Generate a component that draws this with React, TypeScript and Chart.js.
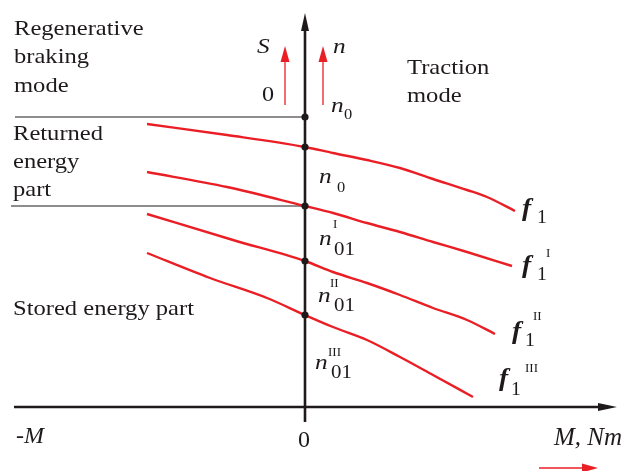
import React, { useEffect, useRef } from "react";
import { Chart, registerables } from "chart.js";

Chart.register(...registerables);

// ---- Data (schematic units: M torque on x, n speed on y) ----
const curveNames = ["f1", "f1I", "f1II", "f1III"];
const f1M = [-1.58, -0.78, 0, 0.28, 0.62, 0.95, 1.28, 1.62, 1.82, 2.1];
const f1N = [2.83, 2.72, 2.6, 2.54, 2.47, 2.39, 2.28, 2.17, 2.1, 1.96];
const f1IM = [-1.58, -0.78, 0, 0.28, 0.62, 0.95, 1.28, 1.62, 2.07];
const f1IN = [2.35, 2.2, 2.01, 1.94, 1.84, 1.75, 1.65, 1.55, 1.41];
const f1IIM = [-1.58, -0.72, 0, 0.28, 0.62, 0.95, 1.28, 1.62, 1.9];
const f1IIN = [1.93, 1.67, 1.46, 1.35, 1.24, 1.12, 0.99, 0.87, 0.73];
const f1IIIM = [-1.58, -0.95, -0.38, 0, 0.28, 0.62, 0.95, 1.28, 1.68];
const f1IIIN = [1.54, 1.29, 1.09, 0.92, 0.8, 0.67, 0.5, 0.32, 0.1];

// speed levels on the n axis (M = 0)
const nLevels = [2.9, 2.6, 2.01, 1.46, 0.92];
// horizontal boundary lines: level and left end
const boundaryLevels = [2.9, 2.01];
const boundaryStart = [-2.9, -2.94];

// axis extents
const xRange = [-3.05, 3.18];
const yRange = [-0.64, 4.07];
const xAxisSpan = [-2.91, 3.12];
const yAxisSpan = [-0.15, 3.94];

const RED = "#ea1f26";
const INK = "#1e1a1b";
const SERIF = '"Liberation Serif", "Times New Roman", serif';

type Lbl = { t: string; x: number; y: number; f: string; sx?: number; align?: CanvasTextAlign };

const labels: Lbl[] = [
  { t: "Regenerative", x: -2.91, y: 3.72, f: `21px ${SERIF}`, sx: 1.17 },
  { t: "braking", x: -2.91, y: 3.44, f: `21px ${SERIF}`, sx: 1.17 },
  { t: "mode", x: -2.91, y: 3.15, f: `21px ${SERIF}`, sx: 1.17 },
  { t: "Returned", x: -2.92, y: 2.67, f: `21px ${SERIF}`, sx: 1.17 },
  { t: "energy", x: -2.92, y: 2.39, f: `21px ${SERIF}`, sx: 1.17 },
  { t: "part", x: -2.92, y: 2.11, f: `21px ${SERIF}`, sx: 1.17 },
  { t: "Stored energy part", x: -2.92, y: 0.92, f: `21px ${SERIF}`, sx: 1.17 },
  { t: "Traction", x: 1.02, y: 3.33, f: `21px ${SERIF}`, sx: 1.17 },
  { t: "mode", x: 1.02, y: 3.05, f: `21px ${SERIF}`, sx: 1.17 },
  { t: "S", x: -0.48, y: 3.54, f: `italic 22px ${SERIF}`, sx: 1.15 },
  { t: "0", x: -0.43, y: 3.06, f: `22px ${SERIF}`, sx: 1.1 },
  { t: "n", x: 0.28, y: 3.54, f: `italic 22px ${SERIF}`, sx: 1.15 },
  // n0 (top)
  { t: "n", x: 0.26, y: 2.95, f: `italic 22px ${SERIF}`, sx: 1.15 },
  { t: "0", x: 0.39, y: 2.88, f: `15px ${SERIF}`, sx: 1.1 },
  // n0 (middle)
  { t: "n", x: 0.14, y: 2.24, f: `italic 22px ${SERIF}`, sx: 1.15 },
  { t: "0", x: 0.32, y: 2.15, f: `15px ${SERIF}`, sx: 1.1 },
  // n01 I
  { t: "I", x: 0.28, y: 1.79, f: `13px ${SERIF}` },
  { t: "n", x: 0.14, y: 1.62, f: `italic 22px ${SERIF}`, sx: 1.15 },
  { t: "01", x: 0.29, y: 1.52, f: `19px ${SERIF}`, sx: 1.1 },
  // n01 II
  { t: "II", x: 0.25, y: 1.2, f: `13px ${SERIF}` },
  { t: "n", x: 0.13, y: 1.05, f: `italic 22px ${SERIF}`, sx: 1.15 },
  { t: "01", x: 0.29, y: 0.96, f: `19px ${SERIF}`, sx: 1.1 },
  // n01 III
  { t: "III", x: 0.23, y: 0.51, f: `13px ${SERIF}` },
  { t: "n", x: 0.1, y: 0.38, f: `italic 22px ${SERIF}`, sx: 1.15 },
  { t: "01", x: 0.26, y: 0.29, f: `19px ${SERIF}`, sx: 1.1 },
  // f1
  { t: "f", x: 2.17, y: 1.91, f: `bold italic 25px ${SERIF}`, sx: 1.1 },
  { t: "1", x: 2.32, y: 1.84, f: `18px ${SERIF}`, sx: 1.1 },
  // f1 I
  { t: "f", x: 2.17, y: 1.34, f: `bold italic 25px ${SERIF}`, sx: 1.1 },
  { t: "1", x: 2.32, y: 1.27, f: `18px ${SERIF}`, sx: 1.1 },
  { t: "I", x: 2.41, y: 1.5, f: `13px ${SERIF}` },
  // f1 II
  { t: "f", x: 2.07, y: 0.68, f: `bold italic 25px ${SERIF}`, sx: 1.1 },
  { t: "1", x: 2.2, y: 0.61, f: `18px ${SERIF}`, sx: 1.1 },
  { t: "II", x: 2.28, y: 0.87, f: `13px ${SERIF}` },
  // f1 III
  { t: "f", x: 1.94, y: 0.21, f: `bold italic 25px ${SERIF}`, sx: 1.1 },
  { t: "1", x: 2.06, y: 0.12, f: `18px ${SERIF}`, sx: 1.1 },
  { t: "III", x: 2.2, y: 0.35, f: `13px ${SERIF}` },
  // axis labels
  { t: "-M", x: -2.89, y: -0.36, f: `italic 24px ${SERIF}` },
  { t: "0", x: -0.01, y: -0.4, f: `24px ${SERIF}`, align: "center" },
  { t: "M, Nm", x: 2.49, y: -0.38, f: `italic 25px ${SERIF}` },
];

// red direction arrows: [x0, y0, x1, y1]
const redArrows = [
  [-0.2, 3.02, -0.2, 3.61],
  [0.18, 3.02, 0.18, 3.61],
  [2.34, -0.61, 2.93, -0.61],
];

const pts = (xs: number[], ys: number[]) => xs.map((x, i) => ({ x, y: ys[i] }));
const curves = [pts(f1M, f1N), pts(f1IM, f1IN), pts(f1IIM, f1IIN), pts(f1IIIM, f1IIIN)];

function arrowHead(ctx: CanvasRenderingContext2D, x0: number, y0: number, x1: number, y1: number, len: number, half: number) {
  const a = Math.atan2(y1 - y0, x1 - x0);
  ctx.beginPath();
  ctx.moveTo(x1, y1);
  ctx.lineTo(x1 - len * Math.cos(a) + half * Math.sin(a), y1 - len * Math.sin(a) - half * Math.cos(a));
  ctx.lineTo(x1 - len * Math.cos(a) - half * Math.sin(a), y1 - len * Math.sin(a) + half * Math.cos(a));
  ctx.closePath();
  ctx.fill();
}

const schematic = {
  id: "schematic",
  beforeDatasetsDraw(chart: any) {
    const { ctx, scales } = chart;
    const X = (v: number) => scales.x.getPixelForValue(v);
    const Y = (v: number) => scales.y.getPixelForValue(v);
    ctx.save();
    ctx.strokeStyle = INK;
    ctx.fillStyle = INK;
    ctx.lineWidth = 2.6;
    // horizontal M axis
    ctx.beginPath();
    ctx.moveTo(X(xAxisSpan[0]), Y(0));
    ctx.lineTo(X(xAxisSpan[1]) - 10, Y(0));
    ctx.stroke();
    arrowHead(ctx, X(xAxisSpan[0]), Y(0), X(xAxisSpan[1]), Y(0), 19, 4);
    // vertical n axis
    ctx.beginPath();
    ctx.moveTo(X(0), Y(yAxisSpan[0]));
    ctx.lineTo(X(0), Y(yAxisSpan[1]) + 10);
    ctx.stroke();
    arrowHead(ctx, X(0), Y(yAxisSpan[0]), X(0), Y(yAxisSpan[1]), 18, 4);
    ctx.restore();
  },
  afterDatasetsDraw(chart: any) {
    const { ctx, scales } = chart;
    const X = (v: number) => scales.x.getPixelForValue(v);
    const Y = (v: number) => scales.y.getPixelForValue(v);
    ctx.save();
    // red arrows
    ctx.strokeStyle = RED;
    ctx.fillStyle = RED;
    ctx.lineWidth = 1.3;
    redArrows.forEach(([x0, y0, x1, y1]) => {
      const px0 = X(x0), py0 = Y(y0), px1 = X(x1), py1 = Y(y1);
      ctx.beginPath();
      ctx.moveTo(px0, py0);
      ctx.lineTo(px1 - (px1 - px0 ? Math.sign(px1 - px0) * 8 : 0), py1 - (py1 - py0 ? Math.sign(py1 - py0) * 8 : 0));
      ctx.stroke();
      arrowHead(ctx, px0, py0, px1, py1, 16, 4.5);
    });
    // text
    ctx.fillStyle = INK;
    ctx.textBaseline = "alphabetic";
    labels.forEach((l) => {
      ctx.save();
      ctx.font = l.f;
      ctx.textAlign = l.align || "left";
      ctx.translate(X(l.x), Y(l.y));
      ctx.scale(l.sx || 1, 1);
      ctx.fillText(l.t, 0, 0);
      ctx.restore();
    });
    ctx.restore();
  },
};

export default function App() {
  const ref = useRef<HTMLCanvasElement>(null);
  useEffect(() => {
    if (!ref.current) return;
    const datasets: any[] = [];
    // level dots first + lowest order so they are drawn on top
    datasets.push({
      label: "n levels",
      data: nLevels.map((n) => ({ x: 0, y: n })),
      showLine: false,
      order: 0,
      pointRadius: 3.6,
      pointBorderWidth: 0,
      pointBackgroundColor: INK,
      pointBorderColor: INK,
    });
    boundaryLevels.forEach((lvl, i) => {
      datasets.push({
        label: "boundary" + i,
        data: [
          { x: boundaryStart[i], y: lvl },
          { x: 0, y: lvl },
        ],
        showLine: true,
        order: 2,
        borderColor: INK,
        borderWidth: 1,
        pointRadius: 0,
      });
    });
    curves.forEach((c, i) => {
      datasets.push({
        label: curveNames[i],
        data: c,
        showLine: true,
        order: 1,
        borderColor: RED,
        borderWidth: 2.4,
        pointRadius: 0,
        cubicInterpolationMode: "monotone",
      });
    });
    const chart = new Chart(ref.current, {
      type: "scatter",
      data: { datasets },
      plugins: [schematic],
      options: {
        animation: false,
        responsive: true,
        maintainAspectRatio: false,
        devicePixelRatio: 1,
        layout: { padding: 0, autoPadding: false },
        plugins: { legend: { display: false }, tooltip: { enabled: false } },
        events: [],
        scales: {
          x: { type: "linear", min: xRange[0], max: xRange[1], display: false },
          y: { type: "linear", min: yRange[0], max: yRange[1], display: false },
        },
      },
    } as any);
    return () => chart.destroy();
  }, []);
  return (
    <div style={{ position: "fixed", left: 0, top: 0, width: 623, height: 471, background: "#fff" }}>
      <canvas ref={ref} />
    </div>
  );
}
